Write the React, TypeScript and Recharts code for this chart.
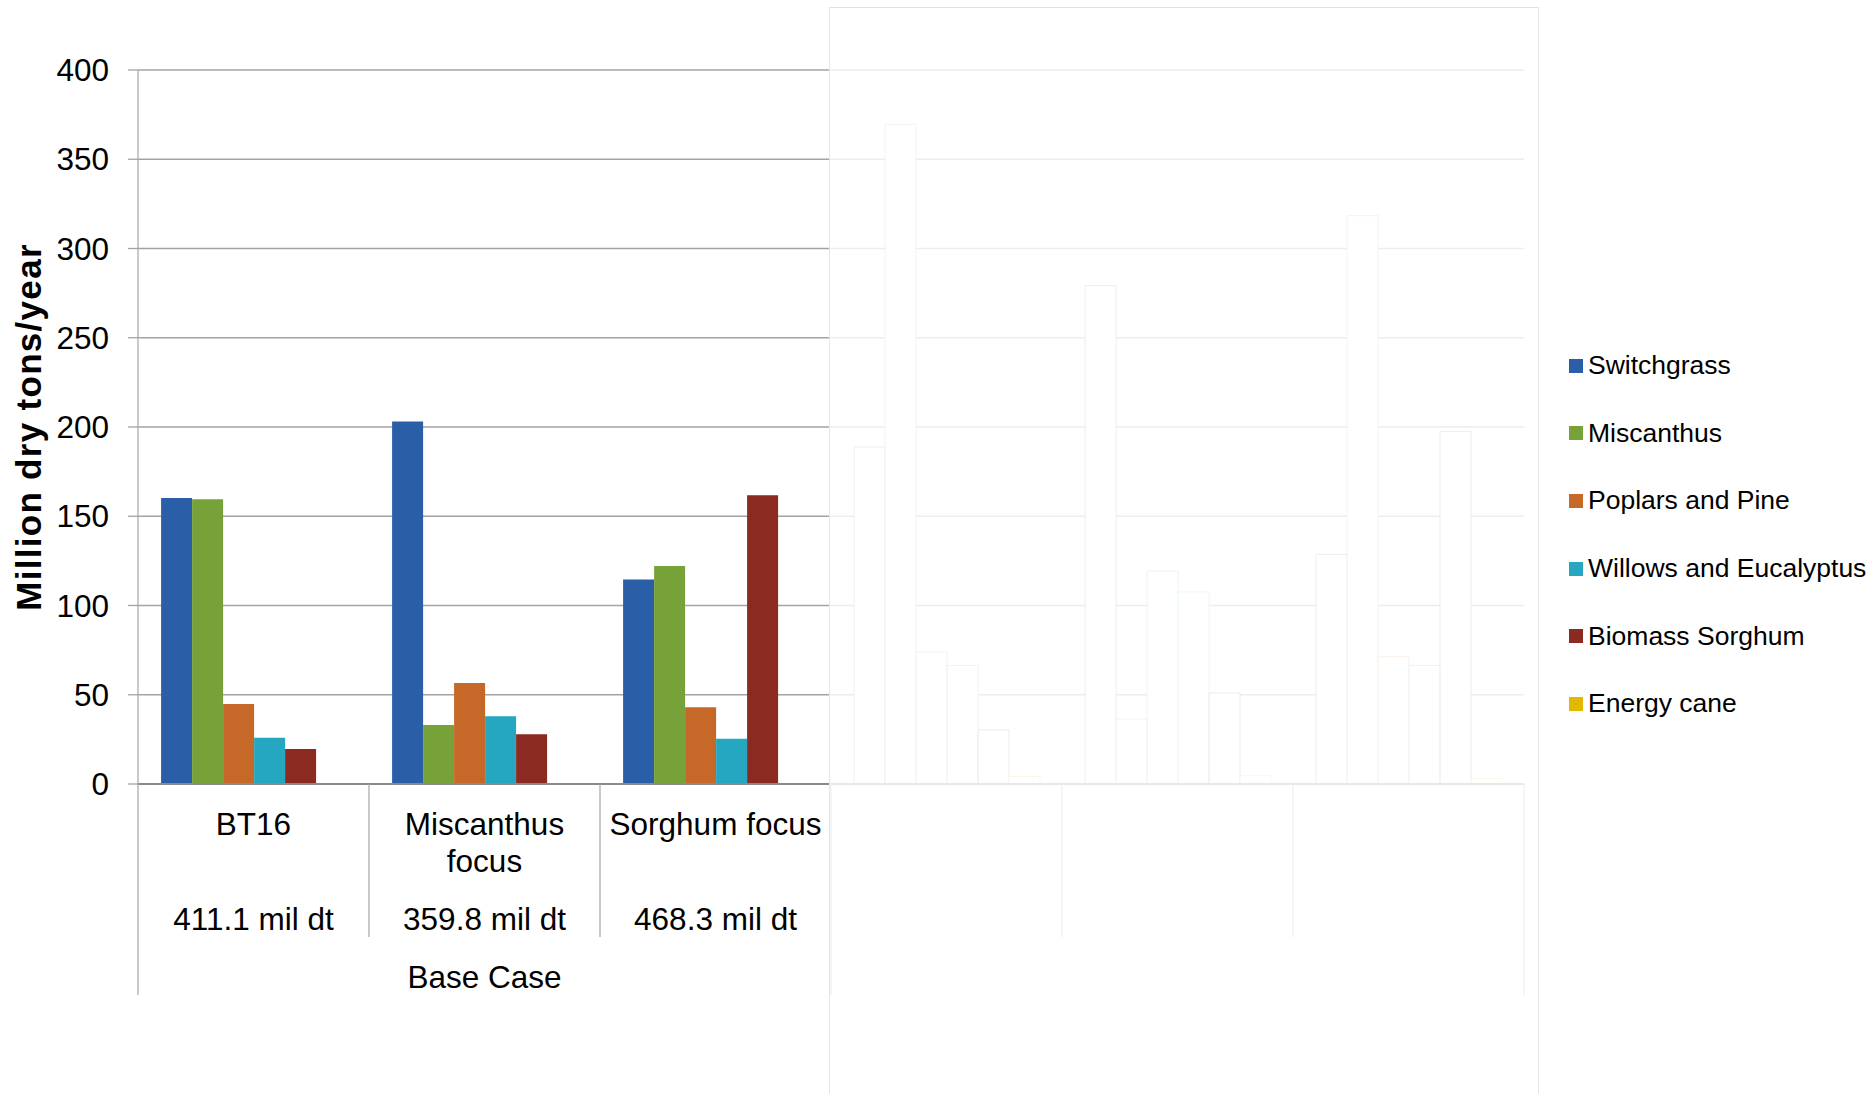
import React from "react";
import { BarChart, Bar, XAxis, YAxis, CartesianGrid, Cell, Legend } from "recharts";

const FONT = '"Liberation Sans", Arial, Helvetica, sans-serif';

// Categories (the last three are covered by a white panel in the reference)
const categories = ["BT16", "Miscanthus focus", "Sorghum focus", "Scenario 4", "Scenario 5", "Scenario 6"];
const totals = ["411.1 mil dt", "359.8 mil dt", "468.3 mil dt", "", "", ""];
const groupLabels = ["Base Case", ""];
const visibleCount = 3;
const groupSize = 3;

// Series values (million dry tons/year)
const switchgrass = [160.2, 203.1, 114.5, 188.8, 279.2, 128.6];
const miscanthus = [159.5, 33.1, 122.1, 369.6, 36.4, 318.4];
const poplarsPine = [44.8, 56.6, 43.0, 74.0, 119.3, 71.3];
const willowsEucalyptus = [25.9, 37.9, 25.3, 66.4, 107.6, 66.4];
const biomassSorghum = [19.6, 27.9, 161.7, 30.3, 51.0, 197.5];
const energyCane = [0, 0, 0, 4.2, 4.8, 3.0];

const seriesKeys = ["switchgrass", "miscanthus", "poplars", "willows", "sorghum", "cane"];
const seriesNames = [
  "Switchgrass",
  "Miscanthus",
  "Poplars and Pine",
  "Willows and Eucalyptus",
  "Biomass Sorghum",
  "Energy cane",
];
const seriesColors = ["#2A5EA6", "#77A23A", "#C56828", "#25A7C1", "#8B2A20", "#E3B800"];
const seriesValues = [switchgrass, miscanthus, poplarsPine, willowsEucalyptus, biomassSorghum, energyCane];

const yTicks = [0, 50, 100, 150, 200, 250, 300, 350, 400];

const data = categories.map((name, i) => {
  const row: Record<string, string | number> = { name };
  seriesKeys.forEach((k, si) => {
    row[k] = seriesValues[si][i];
  });
  return row;
});

const W = 1872;
const H = 1094;
const M = { top: 70, right: 348, left: 38, bottom: 80 };
const Y_W = 100;
const X_H = 230;
const PLOT_W = W - M.left - M.right - Y_W;
const LABEL_SIZE = 31.5;

let measureCtx: CanvasRenderingContext2D | null = null;
function measure(s: string): number {
  if (typeof document === "undefined") return s.length * LABEL_SIZE * 0.55;
  if (!measureCtx) {
    const c = document.createElement("canvas");
    measureCtx = c.getContext("2d");
  }
  if (!measureCtx) return s.length * LABEL_SIZE * 0.55;
  measureCtx.font = `${LABEL_SIZE}px ${FONT}`;
  return measureCtx.measureText(s).width;
}

function wrapWords(s: string, maxW: number): string[] {
  const words = s.split(" ");
  const lines: string[] = [];
  let cur = "";
  words.forEach((w) => {
    const cand = cur ? cur + " " + w : w;
    if (cur && measure(cand) > maxW) {
      lines.push(cur);
      cur = w;
    } else {
      cur = cand;
    }
  });
  if (cur) lines.push(cur);
  return lines;
}

const CategoryTick = (props: any) => {
  const { x, y, payload } = props;
  const i: number = payload.index;
  const band = PLOT_W / categories.length;
  const left = x - band / 2;
  const right = x + band / 2;
  const groupStart = i % groupSize === 0;
  const isLast = i === categories.length - 1;
  const visible = i < visibleCount;
  const lineColor = "#a6a6a6";
  const groupIdx = Math.floor(i / groupSize);
  const lines = visible ? wrapWords(categories[i], band - 8) : [];
  return (
    <g>
      <line x1={left} x2={left} y1={y} y2={y + (groupStart ? 211 : 153)} stroke={lineColor} strokeWidth={1.2} />
      {isLast && <line x1={right} x2={right} y1={y} y2={y + 211} stroke={lineColor} strokeWidth={1.2} />}
      {visible && (
        <text textAnchor="middle" fontSize={LABEL_SIZE} fontFamily={FONT} fill="#000">
          {lines.map((ln, li) => (
            <tspan key={li} x={x} y={y + 51 + li * 37}>
              {ln}
            </tspan>
          ))}
        </text>
      )}
      {visible && (
        <text x={x} y={y + 145.5} textAnchor="middle" fontSize={LABEL_SIZE} fontFamily={FONT} fill="#000">
          {totals[i]}
        </text>
      )}
      {visible && i % groupSize === 1 && groupLabels[groupIdx] && (
        <text x={x} y={y + 203.5} textAnchor="middle" fontSize={LABEL_SIZE} fontFamily={FONT} fill="#000">
          {groupLabels[groupIdx]}
        </text>
      )}
    </g>
  );
};

const YLabel = (props: any) => {
  const vb = props.viewBox || { x: M.left, y: M.top, width: Y_W, height: 714 };
  const cx = vb.x - 10;
  const cy = vb.y + vb.height / 2;
  return (
    <text
      x={cx}
      y={cy}
      transform={`rotate(-90 ${cx} ${cy})`}
      textAnchor="middle"
      dominantBaseline="central"
      fontSize={35}
      fontWeight="bold"
      letterSpacing={1.3}
      fontFamily={FONT}
      fill="#000"
    >
      Million dry tons/year
    </text>
  );
};

const LegendContent = () => (
  <div style={{ fontFamily: FONT }}>
    {seriesNames.map((n, i) => (
      <div
        key={n}
        style={{
          height: 67.6,
          display: "flex",
          alignItems: "center",
          fontSize: 26.5,
          color: "#000",
          whiteSpace: "nowrap",
        }}
      >
        <span
          style={{
            width: 14,
            height: 14,
            background: seriesColors[i],
            marginRight: 5,
            flex: "none",
            display: "inline-block",
          }}
        />
        {n}
      </div>
    ))}
  </div>
);

export default function App() {
  return (
    <div style={{ position: "absolute", left: 0, top: 0, width: W, height: H, background: "#fff", overflow: "hidden" }}>
      <BarChart width={W} height={H} data={data} margin={M} barCategoryGap="10%" barGap={0}>
        <CartesianGrid vertical={false} stroke="#a3a3a3" strokeWidth={1.3} />
        <XAxis
          dataKey="name"
          height={X_H}
          interval={0}
          tickLine={false}
          tickSize={0}
          tickMargin={0}
          axisLine={{ stroke: "#8a8a8a", strokeWidth: 2 }}
          tick={<CategoryTick />}
        />
        <YAxis
          width={Y_W}
          domain={[0, 400]}
          ticks={yTicks}
          interval={0}
          tickSize={10}
          tickMargin={19}
          tickLine={{ stroke: "#a3a3a3", strokeWidth: 1.3 }}
          axisLine={{ stroke: "#a6a6a6", strokeWidth: 1.2 }}
          tick={{ fontSize: LABEL_SIZE, fill: "#000", fontFamily: FONT }}
          label={<YLabel />}
        />
        <Legend
          layout="vertical"
          align="center"
          verticalAlign="middle"
          wrapperStyle={{ left: 1569, top: 332, width: 303 }}
          content={<LegendContent />}
        />
        {seriesKeys.map((k, si) => (
          <Bar key={k} dataKey={k} name={seriesNames[si]} fill={seriesColors[si]} isAnimationActive={false}>
            {data.map((_, i) => (
              <Cell
                key={i}
                fill={i < visibleCount ? seriesColors[si] : "#ffffff"}
                stroke={i < visibleCount ? "none" : seriesColors[si]}
                strokeOpacity={0.5}
                strokeWidth={1}
              />
            ))}
          </Bar>
        ))}
      </BarChart>
      <div
        style={{
          position: "absolute",
          left: 828.5,
          top: 6.5,
          width: 710,
          height: 1100,
          background: "rgba(255,255,255,0.8)",
          borderTop: "1.5px solid #e2e2e2",
          borderLeft: "1.5px solid #e6e6e6",
          borderRight: "1.5px solid #e6e6e6",
          boxSizing: "border-box",
          pointerEvents: "none",
        }}
      />
    </div>
  );
}
